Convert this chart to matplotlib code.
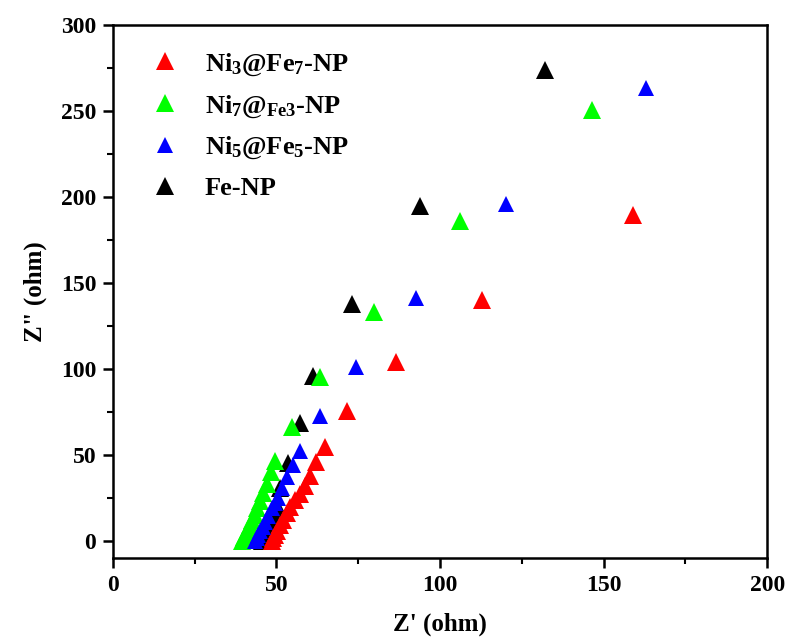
import matplotlib.pyplot as plt
import numpy as np

plt.rcParams["font.family"] = ["Liberation Serif", "DejaVu Serif"]
plt.rcParams["font.weight"] = "bold"
plt.rcParams["mathtext.fontset"] = "custom"
plt.rcParams["mathtext.rm"] = "Liberation Serif:bold"
plt.rcParams["mathtext.it"] = "Liberation Serif:bold"
plt.rcParams["mathtext.bf"] = "Liberation Serif:bold"

# Ni3@Fe7-NP
red_x = [48.5, 49.0, 49.6, 50.3, 51.1, 52.0, 53.1, 54.2, 55.6, 57.2, 58.6, 60.2, 62.2, 64.8, 71.5, 86.4, 112.7, 159.1]
red_y = [0, 1.5, 3.5, 6, 9, 12, 16, 20, 24, 27.4, 32, 37.9, 46, 54.7, 75.7, 104.2, 140.4, 189.3]
# Ni7@Fe3-NP
green_x = [39.4, 40.0, 40.6, 41.2, 41.9, 42.6, 43.3, 44.1, 45.0, 46.0, 47.0, 48.2, 49.5, 54.6, 63.3, 79.8, 106.1, 146.4]
green_y = [0, 2, 4, 6.5, 9, 12, 15, 19, 23, 28, 33, 40, 46.6, 66.4, 95.1, 133, 186, 250.4]
# Ni5@Fe5-NP
blue_x = [43.4, 43.9, 44.5, 45.1, 45.8, 46.6, 47.5, 48.5, 49.6, 50.6, 51.8, 53.1, 55.0, 57.2, 63.3, 74.3, 92.7, 120.2, 163.0]
blue_y = [0, 1.5, 3.5, 5.5, 8, 11, 14.5, 19, 22, 25.2, 30.5, 36.9, 44, 52.4, 72.8, 101.3, 141.1, 195.7, 263.6]
# Fe-NP
black_x = [45.5, 46.2, 47.0, 47.9, 48.8, 49.7, 50.6, 51.1, 53.6, 57.2, 61.3, 73.0, 93.9, 132.1]
black_y = [0, 2.5, 5.5, 9, 12.5, 16, 19.4, 31, 45.6, 68.7, 96, 137.9, 195, 273.7]

fig = plt.figure(figsize=(7.95, 6.43), dpi=100)
ax = fig.add_axes([0.142, 0.132, 0.823, 0.829])

ms = 13.5
ax.plot(black_x, black_y, "^", color="black", ms=ms, mew=0, label="Fe-NP", zorder=2)
ax.plot(red_x, red_y, "^", color="#ff0000", ms=ms, mew=0, label=r"Ni$_3$@Fe$_7$-NP", zorder=3)
ax.plot(blue_x, blue_y, "^", color="#0000ff", ms=11, mew=0, label=r"Ni$_5$@Fe$_5$-NP", zorder=4)
ax.plot(green_x, green_y, "^", color="#00ff00", ms=ms, mew=0, label=r"Ni$_7$@$_{\mathrm{Fe3}}$-NP", zorder=3.5)

handles, labels = ax.get_legend_handles_labels()
order = [1, 3, 2, 0]
ax.legend([handles[i] for i in order], [labels[i] for i in order],
          loc="upper left", bbox_to_anchor=(0.015, 0.995), frameon=False,
          prop={"size": 19, "weight": "bold"}, handletextpad=0.8,
          labelspacing=0.58, handlelength=1.4)

ax.set_xlim(0, 200)
ax.set_ylim(-10, 300)
ax.set_xticks(np.arange(0, 201, 50))
ax.set_yticks(np.arange(0, 301, 50))
ax.set_xticks(np.arange(25, 200, 50), minor=True)
ax.set_yticks(np.arange(25, 300, 50), minor=True)
ax.tick_params(which="major", direction="out", length=7, width=1.8, labelsize=17, pad=5)
ax.tick_params(which="minor", direction="out", length=4, width=1.5)
for lbl in ax.get_xticklabels() + ax.get_yticklabels():
    lbl.set_fontweight("bold")
for s in ax.spines.values():
    s.set_linewidth(1.8)

ax.set_xlabel("Z' (ohm)", fontsize=18, fontweight="bold", labelpad=12)
ax.set_ylabel('Z" (ohm)', fontsize=18, fontweight="bold", labelpad=10)

fig.savefig("out.png", dpi=100)
